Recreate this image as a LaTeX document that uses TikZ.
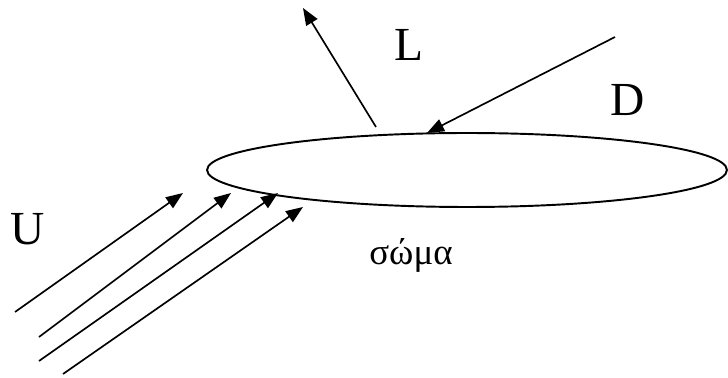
\documentclass[tikz,border=0pt]{standalone}
\usepackage{fontspec}
\setmainfont{Liberation Serif}
\usetikzlibrary{arrows.meta,shapes.geometric}
\tikzset{
  flow/.style={line width=0.95pt, -{Triangle[length=0.34cm,width=0.26cm]}},
  lbl/.style={font=\fontsize{27}{30}\selectfont}
}

\begin{document}
\begin{tikzpicture}[x=0.02cm, y=-0.02cm]
  \useasboundingbox (0,0) rectangle (728,378);
  % the body
  \node[draw, ellipse, line width=1.1pt, minimum width=10.4cm, minimum height=1.48cm, inner sep=0pt] (body) at (467,170) {};
  \node[lbl, font=\fontsize{21}{24}\selectfont] (bodyLabel) at (411,255) {σώμα};
  % lift and drag
  \coordinate (liftStart) at (376,127);
  \coordinate (liftEnd) at (303,8);
  \coordinate (dragStart) at (615,37);
  \coordinate (dragEnd) at (427,133);
  \draw[flow] (liftStart) -- (liftEnd);
  \draw[flow] (dragStart) -- (dragEnd);
  \node[lbl] (liftLabel) at (409,45) {L};
  \node[lbl] (dragLabel) at (628,100) {D};
  % free stream
  \coordinate (u1s) at (15,312);  \coordinate (u1e) at (183,193);
  \coordinate (u2s) at (39,337);  \coordinate (u2e) at (231,193);
  \coordinate (u3s) at (39,361);  \coordinate (u3e) at (278,193);
  \coordinate (u4s) at (63,374);  \coordinate (u4e) at (303,207);
  \foreach \i in {1,...,4}
    \draw[flow] (u\i s) -- (u\i e);
  \node[lbl] (streamLabel) at (28,229) {U};
\end{tikzpicture}
\end{document}
